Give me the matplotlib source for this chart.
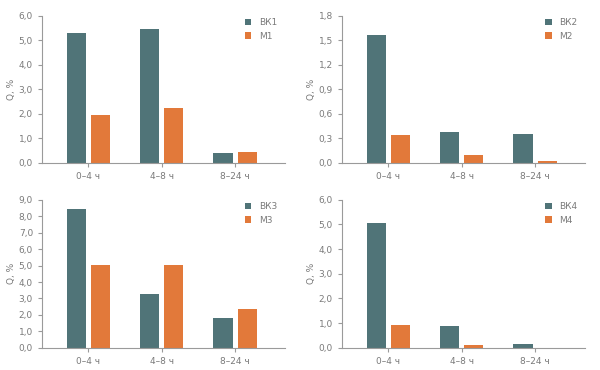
import matplotlib.pyplot as plt
import numpy as np

categories = ['0–4 ч', '4–8 ч', '8–24 ч']

bk1 = [5.32, 5.45, 0.38]
m1 = [1.94, 2.22, 0.46]
bk2 = [1.57, 0.38, 0.35]
m2 = [0.34, 0.094, 0.024]
bk3 = [8.45, 3.27, 1.83]
m3 = [5.02, 5.04, 2.34]
bk4 = [5.05, 0.89, 0.15]
m4 = [0.93, 0.11, 0.0]

panels = [
    ('ВК1', 'М1', bk1, m1, 6.0, 1.0),
    ('ВК2', 'М2', bk2, m2, 1.8, 0.3),
    ('ВК3', 'М3', bk3, m3, 9.0, 1.0),
    ('ВК4', 'М4', bk4, m4, 6.0, 1.0),
]

teal = '#507478'
orange = '#e2793a'
grey = '#7a7a7a'
spine = '#9a9a9a'

fig = plt.figure(figsize=(6, 3.7), dpi=100)
positions = [
    [0.07, 0.56, 0.405, 0.397],
    [0.57, 0.56, 0.405, 0.397],
    [0.07, 0.06, 0.405, 0.40],
    [0.57, 0.06, 0.405, 0.40],
]

x = np.arange(len(categories))
w = 0.26
off = 0.165

for pos, (lb, lm, vb, vm, ymax, step) in zip(positions, panels):
    ax = fig.add_axes(pos)
    ax.bar(x - off, vb, w, color=teal, label=lb)
    ax.bar(x + off, vm, w, color=orange, label=lm)
    ax.set_xlim(-0.63, 2.68)
    ax.set_ylim(0, ymax)
    ticks = np.arange(0, ymax + step / 2, step)
    ax.set_yticks(ticks)
    ax.set_yticklabels([f'{t:.1f}'.replace('.', ',') for t in ticks])
    ax.set_xticks(x)
    ax.set_xticklabels(categories)
    for s in ['top', 'right']:
        ax.spines[s].set_visible(False)
    for s in ['left', 'bottom']:
        ax.spines[s].set_color(spine)
        ax.spines[s].set_linewidth(0.8)
    ax.tick_params(colors=spine, labelcolor=grey, labelsize=6.5, length=3, width=0.8)
    ax.set_ylabel('Q, %', fontsize=6.5, color=grey, labelpad=2)
    ax.legend(loc='upper right', frameon=False, fontsize=6.5, handlelength=0.75,
              handleheight=0.75, handletextpad=0.8, labelspacing=0.5,
              bbox_to_anchor=(1.0, 1.04), labelcolor=grey)

fig.savefig('out.png', dpi=100)
